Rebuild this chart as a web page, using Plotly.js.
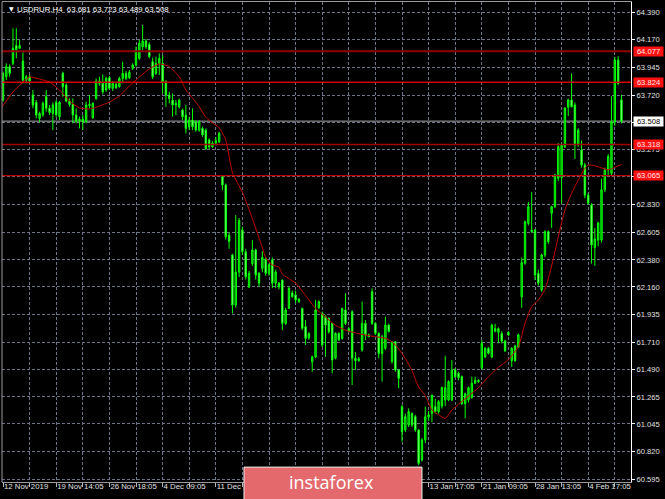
<!DOCTYPE html>
<html><head><meta charset="utf-8">
<script src="https://cdn.plot.ly/plotly-3.0.1.min.js"></script>
<style>html,body{margin:0;padding:0;background:#000;}#chart{width:665px;height:499px;}</style>
</head><body><div id="chart"></div>
<script>
const symbolTitle = "USDRUR,H4";
const lastBar = [63.681, 63.723, 63.489, 63.508];

const opens = [
63.680,63.869,63.951,63.978,64.122,64.100,63.997,63.842,63.869,63.720,
63.661,63.531,63.558,63.707,63.612,63.571,63.661,63.544,63.897,63.802,
63.672,63.644,63.558,63.509,63.525,63.504,63.634,63.536,63.693,63.834,
63.815,63.761,63.861,63.775,63.807,63.788,63.856,63.896,63.861,63.937,
63.964,64.019,64.113,64.160,64.132,63.991,63.896,63.978,63.978,63.829,
63.720,63.679,63.639,63.625,63.598,63.557,63.462,63.517,63.503,63.435,
63.449,63.435,63.354,63.300,63.330,63.340,63.056,62.988,62.580,62.420,
62.012,62.280,62.622,62.446,62.160,62.350,62.460,62.270,62.310,62.380,
62.270,62.380,62.190,62.190,62.216,61.863,61.985,62.110,62.094,62.060,
61.985,61.836,61.745,61.551,61.590,61.990,61.945,61.917,61.904,61.863,
61.580,61.782,61.741,61.972,61.820,61.958,61.580,61.560,61.646,61.863,
61.770,62.120,61.863,61.782,61.619,61.660,61.850,61.551,61.714,61.484,
61.185,60.996,61.037,61.131,61.104,60.996,60.752,60.915,61.100,61.130,
61.186,61.145,61.190,61.240,61.240,61.240,61.484,61.457,61.430,61.210,
61.240,61.260,61.377,61.400,61.500,61.590,61.660,61.590,61.820,61.790,
61.780,61.720,61.790,61.560,61.680,61.670,62.080,62.352,62.677,62.622,
62.622,62.270,62.134,62.419,62.609,62.758,62.812,63.043,63.050,63.300,
63.620,63.680,63.640,63.314,63.273,63.151,62.907,62.826,62.480,62.540,
62.540,62.950,63.110,63.083,63.500,64.005,63.681];

const highs = [
63.910,63.978,63.970,64.263,64.263,64.168,64.067,63.883,63.883,63.761,
63.680,63.585,63.666,63.761,63.639,63.661,63.680,63.672,63.910,63.815,
63.693,63.693,63.612,63.544,63.558,63.666,63.720,63.661,63.856,63.869,
63.888,63.869,63.875,63.834,63.829,63.869,63.991,63.916,63.924,63.978,
64.113,64.168,64.290,64.176,64.149,64.024,64.032,64.059,64.045,63.842,
63.747,63.734,63.679,63.690,63.610,63.639,63.544,63.612,63.517,63.517,
63.462,63.449,63.368,63.345,63.380,63.420,63.065,63.000,62.600,62.430,
62.744,62.720,62.650,62.470,62.290,62.540,62.470,62.280,62.450,62.400,
62.350,62.400,62.300,62.200,62.220,61.990,62.160,62.130,62.130,62.070,
61.990,61.890,61.790,61.600,62.053,62.050,61.960,61.930,61.910,61.870,
61.790,61.790,61.990,62.107,61.830,61.970,61.630,61.590,62.040,61.890,
61.780,62.148,61.870,61.790,61.770,61.917,61.860,61.720,61.720,61.490,
61.199,61.130,61.172,61.140,61.120,61.000,60.930,61.186,61.150,61.280,
61.250,61.240,61.350,61.600,61.400,61.565,61.500,61.470,61.440,61.300,
61.350,61.430,61.430,61.410,61.728,61.670,61.670,61.860,61.860,61.830,
61.800,61.730,61.800,61.670,61.690,61.780,62.400,62.700,62.850,62.930,
62.630,62.300,62.430,62.620,62.620,62.820,63.080,63.330,63.330,63.620,
63.690,63.897,63.660,63.450,63.350,63.170,62.920,62.840,62.640,62.690,
63.040,63.130,63.240,63.710,64.030,64.035,63.723];

const lows = [
63.666,63.842,63.869,63.964,64.019,64.100,63.815,63.815,63.815,63.612,
63.531,63.498,63.544,63.585,63.558,63.436,63.544,63.517,63.707,63.661,
63.626,63.490,63.490,63.449,63.436,63.490,63.612,63.525,63.680,63.796,
63.726,63.747,63.761,63.753,63.769,63.780,63.815,63.842,63.850,63.924,
63.951,64.005,64.086,64.095,64.019,63.850,63.883,63.883,63.734,63.625,
63.652,63.544,63.557,63.610,63.517,63.408,63.435,63.435,63.422,63.422,
63.381,63.273,63.280,63.290,63.310,63.330,62.947,62.545,62.470,61.944,
61.990,62.240,62.420,62.220,62.150,62.330,62.220,62.160,62.280,62.250,
62.250,62.150,62.150,62.140,61.809,61.850,61.980,62.070,62.026,62.030,
61.810,61.687,61.730,61.470,61.580,61.980,61.670,61.592,61.780,61.457,
61.570,61.720,61.730,61.850,61.790,61.362,61.484,61.550,61.633,61.728,
61.750,61.850,61.770,61.578,61.389,61.646,61.790,61.538,61.470,61.335,
60.901,60.980,61.020,61.020,60.980,60.710,60.740,60.890,61.070,61.060,
61.130,61.130,61.170,61.190,61.230,61.230,61.420,61.400,61.200,61.090,
61.220,61.250,61.370,61.380,61.490,61.580,61.610,61.580,61.790,61.700,
61.700,61.630,61.760,61.510,61.550,61.660,61.990,62.340,62.660,62.600,
62.216,62.170,62.120,62.400,62.510,62.640,62.800,63.020,62.840,63.290,
63.550,63.620,63.200,63.300,63.130,62.880,62.830,62.350,62.330,62.490,
62.520,62.930,63.070,63.060,63.470,63.800,63.489];

const closes = [
63.896,63.951,63.896,64.100,64.089,64.122,63.842,63.869,63.834,63.639,
63.558,63.571,63.653,63.612,63.579,63.639,63.558,63.661,63.788,63.672,
63.644,63.558,63.509,63.525,63.504,63.639,63.644,63.653,63.834,63.815,
63.747,63.856,63.775,63.815,63.780,63.856,63.896,63.856,63.905,63.964,
64.086,64.141,64.160,64.113,64.032,63.869,63.978,64.019,63.829,63.720,
63.693,63.639,63.652,63.679,63.544,63.449,63.517,63.462,63.435,63.503,
63.395,63.286,63.300,63.330,63.350,63.410,62.988,62.568,62.530,62.012,
62.280,62.700,62.446,62.243,62.270,62.460,62.256,62.190,62.400,62.270,
62.340,62.190,62.280,62.160,61.863,61.972,62.148,62.080,62.053,62.040,
61.823,61.741,61.780,61.590,61.972,62.040,61.687,61.850,61.796,61.565,
61.782,61.728,61.985,61.863,61.800,61.579,61.560,61.575,61.863,61.768,
61.755,61.863,61.782,61.619,61.755,61.850,61.796,61.714,61.484,61.416,
60.982,61.104,61.145,61.037,60.996,60.725,60.915,61.104,61.120,61.280,
61.145,61.226,61.340,61.340,61.389,61.484,61.430,61.420,61.210,61.290,
61.340,61.377,61.400,61.390,61.700,61.660,61.620,61.850,61.800,61.820,
61.720,61.640,61.770,61.660,61.560,61.770,62.357,62.690,62.812,62.610,
62.256,62.190,62.419,62.609,62.527,62.812,63.070,63.300,63.314,63.615,
63.680,63.625,63.314,63.436,63.151,62.907,62.841,62.500,62.550,62.680,
62.950,63.110,63.220,63.503,64.005,63.815,63.508];

// moving average read at sample bars
const maBar = [-1,3,6,8,11,14,17,20,23,26,29,32,35,38,41,44,47,50,53,55,57,59,61,63,65,67,69,72,75,78,79,81,83,84,88,91,94,97,100,103,106,109,112,115,117,119,121,123,125,127,129,131,133,135,137,140,143,146,149,152,155,157,159,161,163,165,167,169,171,173,175,176,178,180,182,184,186];
const maValue = [63.598,63.745,63.826,63.867,63.850,63.826,63.761,63.672,63.615,63.607,63.631,63.663,63.712,63.794,63.867,63.932,63.973,63.951,63.869,63.761,63.696,63.625,63.540,63.493,63.455,63.354,63.090,62.930,62.715,62.480,62.400,62.338,62.320,62.265,62.190,62.090,61.985,61.915,61.848,61.808,61.786,61.768,61.755,61.742,61.714,61.655,61.578,61.480,61.345,61.275,61.160,61.120,61.090,61.158,61.205,61.272,61.340,61.430,61.505,61.570,61.673,61.864,61.999,62.053,62.140,62.330,62.568,62.785,62.921,63.029,63.125,63.151,63.145,63.128,63.112,63.132,63.155];

const levels = [64.077, 63.824, 63.318, 63.065];
const bidPrice = 63.508;
const yTickVals = [64.390,64.170,63.945,63.720,63.500,63.275,63.055,62.830,62.605,62.380,62.160,61.935,61.710,61.490,61.265,61.045,60.820,60.595];
const yHiddenTicks = [63.500, 63.055];
const xLabelBars = [0,16,32,48,64,128,144,160,176];
const xLabelText = ["12 Nov 2019","19 Nov 14:05","26 Nov 18:05","4 Dec 09:05","11 Dec","13 Jan 17:05","21 Jan 09:05","28 Jan 13:05","4 Feb 17:05"];

const bars = closes.map((_, i) => i);
const gridBars = [];
for (let b = 0; b <= 184; b += 8) gridBars.push(b);
const gridText = gridBars.map(b => { const k = xLabelBars.indexOf(b); return k >= 0 ? xLabelText[k] : ''; });

const levelColors = ['#8e0000', '#d40000', '#a30000', '#b80000'];
const levelWidths = [2, 1.5, 1.5, 1.2];

const traces = [
  {type:'candlestick', x:bars, open:opens, high:highs, low:lows, close:closes,
   increasing:{line:{color:'#00ff00', width:1}, fillcolor:'#009a00'},
   decreasing:{line:{color:'#00ff00', width:1}, fillcolor:'#c6ffc6'},
   whiskerwidth:0, hoverinfo:'skip', showlegend:false},
  {type:'scatter', mode:'lines', x:maBar, y:maValue, line:{color:'#c40000', width:1, shape:'spline', smoothing:0.6}, hoverinfo:'skip', showlegend:false}
];

const shapes = [];
levels.forEach((lv, k) => shapes.push({type:'line', xref:'paper', x0:0, x1:1, yref:'y', y0:lv, y1:lv, line:{color:levelColors[k], width:levelWidths[k]}}));
shapes.push({type:'line', xref:'paper', x0:0, x1:1, yref:'y', y0:bidPrice, y1:bidPrice, line:{color:'#a8a8a8', width:1}, layer:'below'});
shapes.push({type:'line', xref:'paper', x0:0, x1:0, yref:'paper', y0:0, y1:1, line:{color:'#9a9a9a', width:1}});
shapes.push({type:'rect', xref:'paper', yref:'paper', x0:0.3847, x1:0.6677, y0:-0.04, y1:0.031, fillcolor:'#e4696d', line:{color:'#f0f0f0', width:1}, layer:'above'});

const annotations = [];
levels.forEach(lv => annotations.push({xref:'paper', x:1, xanchor:'left', xshift:1.5, yref:'y', y:lv, yanchor:'middle', text:lv.toFixed(3), showarrow:false, bgcolor:'#ff1010', font:{family:'Liberation Sans', size:7.6, color:'#ffe8e8'}, width:29, height:9, borderpad:0}));
annotations.push({xref:'paper', x:1, xanchor:'left', xshift:1.5, yref:'y', y:bidPrice, yanchor:'middle', text:bidPrice.toFixed(3), showarrow:false, bgcolor:'#ffffff', font:{family:'Liberation Sans', size:7.6, color:'#000000'}, width:29, height:9, borderpad:0});
annotations.push({xref:'paper', yref:'paper', x:0.0072, y:0.986, xanchor:'left', yanchor:'middle', text:'\u25BC', showarrow:false, font:{family:'DejaVu Sans', size:6, color:'#ffffff'}});
annotations.push({xref:'paper', yref:'paper', x:0.0207, y:0.985, xanchor:'left', yanchor:'middle', text:symbolTitle + '\u00a0\u00a0' + lastBar.map(v => v.toFixed(3)).join(' '), showarrow:false, font:{family:'Liberation Sans', size:7.8, color:'#ffffff'}});
annotations.push({xref:'paper', yref:'paper', x:0.5246, y:0.0, xanchor:'center', yanchor:'middle', text:'instaforex', showarrow:false, font:{family:'Open Sans', size:18, color:'#ffffff'}});

const gridStyle = {gridcolor:'#6c7486', griddash:'3px,2px', gridwidth:1};

const layout = {
  width:665, height:499, margin:{l:2, r:34, t:2, b:17},
  paper_bgcolor:'#000000', plot_bgcolor:'#000000', showlegend:false,
  boxgap:0.4,
  xaxis:Object.assign({range:[-0.3, 188.87], rangeslider:{visible:false}, tickmode:'array', tickvals:gridBars, ticktext:gridText,
    ticks:'outside', ticklen:4, tickcolor:'#b4b4b4', ticklabelposition:'outside right', tickangle:0, ticklabelstandoff:-3,
    tickfont:{family:'Liberation Sans', size:7.8, color:'#e0e0e0'}, showgrid:true, zeroline:false,
    showline:true, linecolor:'#9a9a9a', mirror:true, fixedrange:true}, gridStyle),
  yaxis:Object.assign({side:'right', range:[60.573, 64.477], tickmode:'array', tickvals:yTickVals,
    ticktext:yTickVals.map(v => yHiddenTicks.includes(v) ? '' : v.toFixed(3)),
    ticks:'outside', ticklen:3, tickcolor:'#ffffff', tickfont:{family:'Liberation Sans', size:7.6, color:'#e0e0e0'},
    showgrid:true, zeroline:false, showline:true, linecolor:'#ffffff', fixedrange:true}, gridStyle),
  shapes:shapes, annotations:annotations
};

Plotly.newPlot('chart', traces, layout, {staticPlot:true, displayModeBar:false});
</script></body></html>
